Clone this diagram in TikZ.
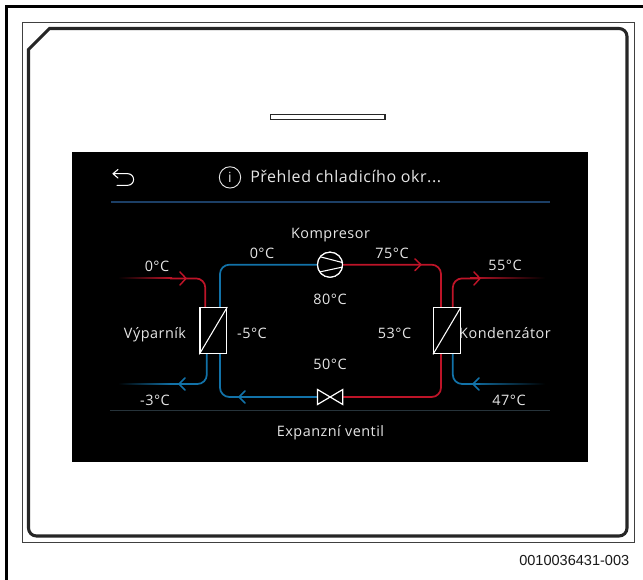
\documentclass[tikz,border=0pt]{standalone}
\usepackage{fontspec}
\setmainfont[LetterSpace=3.5]{Open Sans}
\newfontfamily\capfont{Liberation Sans}
\usetikzlibrary{arrows.meta,fadings}
\definecolor{hotline}{HTML}{BE1428}
\definecolor{coldline}{HTML}{1272A8}
\definecolor{screentext}{HTML}{E6E6E6}
\definecolor{headrule}{HTML}{1C3F66}
\definecolor{footrule}{HTML}{26333A}
\tikzset{
  lbl/.style={text=screentext,font=\fontsize{10.8pt}{12pt}\selectfont,inner sep=0pt,text height=8pt,text depth=0pt},
  hot/.style={draw=hotline,line width=1.3pt,rounded corners=7pt},
  cold/.style={draw=coldline,line width=1.3pt,rounded corners=7pt},
  tipline/.style={line width=1.1pt,line cap=round,line join=round},
  symb/.style={draw=white,line width=.9pt,fill=black},
  hx/.style={symb,minimum width=20pt,minimum height=34.5pt,inner sep=0pt,line width=1pt},
}
\begin{document}
\begin{tikzpicture}[x=.75pt,y=-.75pt]
\useasboundingbox (0,0) rectangle (643,580);
\fill[white] (0,0) rectangle (643,580);
% frames
\draw[black,line width=1.6pt] (6.5,580) -- (6.5,6.5) -- (643,6.5);
\draw[black!75,line width=.6pt] (22.5,22.5) rectangle (634,542);
\draw[black!85,line width=2.3pt] (28.5,49.5) -- (49.5,28.5) -- (619,28.5)
   arc[start angle=-90,end angle=0,radius=8] -- (627,528) arc[start angle=0,end angle=90,radius=8] -- (36.5,536)
   arc[start angle=90,end angle=180,radius=8] -- cycle;
\draw[black!85,line width=.9pt,fill=white] (270.5,114.5) rectangle (385,119.5);
% screen
\fill[black] (72,152) rectangle (588,462);
\draw[headrule,line width=1.1pt] (111,202) -- (550,202);
\draw[footrule,line width=.6pt] (110,410.5) -- (550,410.5);
% back icon
\draw[white,line width=.8pt,line cap=round,line join=round] (118,169.5) -- (113,173.7) -- (118,178)
  (113,173.7) -- (127.8,173.7) arc[start angle=-90,end angle=90,radius=5.8] -- (117,185.3);
% header
\node[draw=screentext,circle,line width=.7pt,minimum size=16pt,inner sep=0pt,
      text=screentext,font=\fontsize{10.5pt}{10pt}\selectfont] (info) at (230,177.4) {i};
\node[lbl,anchor=west,font=\fontsize{12pt}{14pt}\selectfont] (title) at (250,177.5) {Přehled chladicího okr...};
% circuit
\node[hx] (evap) at (213.3,330.7) {};
\node[hx] (cond) at (447,330.7) {};
\node[symb,circle,minimum size=18.8pt,inner sep=0pt] (comp) at (330,264.7) {};
\coordinate (vl) at (317.5,397);
\coordinate (vr) at (342.8,397);
% main loop
\draw[cold] (comp.west) -- (220,264.7) -- (220,308);
\draw[hot] (comp.east) -- (441,264.7) -- (441,308);
\draw[hot] (441,354) -- (441,397) -- (vr);
\draw[cold] (vl) -- (220,397) -- (220,354);
% external lines
\fill[left color=black,right color=hotline] (118,277.7) rectangle (172,279);
\fill[left color=black,right color=coldline] (118,383.4) rectangle (172,384.7);
\fill[right color=black,left color=hotline] (470,277.7) rectangle (545,279);
\fill[right color=black,left color=coldline] (470,383.4) rectangle (545,384.7);
\draw[hot] (170,278.4) -- (205.3,278.4) -- (205.3,308);
\draw[cold] (170,384) -- (206.8,384) -- (206.8,354);
\draw[hot] (452.8,308) -- (452.8,278.4) -- (480,278.4);
\draw[cold] (452.8,354) -- (452.8,384) -- (480,384);
% arrow tips
\draw[hotline,tipline] (180,272) -- (186,278.4) -- (180,285);
\draw[coldline,tipline] (185,378) -- (179,384) -- (185,390);
\draw[coldline,tipline] (245,391) -- (239,397) -- (245,403);
\draw[hotline,tipline] (415,259) -- (421,264.7) -- (415,270.5);
\draw[hotline,tipline] (474,272) -- (480,278.4) -- (474,285);
\draw[coldline,tipline] (479,378) -- (473,384) -- (479,390);
% exchangers redraw
\node[hx] at (evap) {};
\node[hx] at (cond) {};
\draw[white,line width=.8pt] (evap.south west) -- (evap.north east);
\draw[white,line width=.8pt] (cond.south west) -- (cond.north east);
% compressor
\node[symb,circle,minimum size=18.8pt,inner sep=0pt] at (comp) {};
\draw[white,line width=.8pt] (321,257) -- (343,262.7) (319.5,272) -- (342.8,267);
% valve
\draw[symb,line join=miter] (317.5,389.5) -- (342.8,404.5) -- (342.8,389.5) -- (317.5,404.5) -- cycle;
% labels
\node[lbl] (l0a) at (157,266) {0°C};
\node[lbl] (l0b) at (262,253) {0°C};
\node[lbl] (lkomp) at (330.5,233) {Kompresor};
\node[lbl] (l75) at (392,253) {75°C};
\node[lbl] (l55) at (505,265) {55°C};
\node[lbl] (l80) at (330,299) {80°C};
\node[lbl] (lvyp) at (155,333) {Výparník};
\node[lbl] (lm5) at (252,333) {-5°C};
\node[lbl] (l53) at (394.5,333) {53°C};
\node[lbl] (lkond) at (505,333) {Kondenzátor};
\node[lbl] (l50) at (330,364) {50°C};
\node[lbl] (lm3) at (155,400) {-3°C};
\node[lbl] (l47) at (509,400) {47°C};
\node[lbl] (lexp) at (330.5,431) {Expanzní ventil};
\node[font=\capfont\fontsize{10.9pt}{12pt}\selectfont,text=black!90,inner sep=0pt,anchor=east] (code) at (629.5,560.7) {0010036431-003};
\end{tikzpicture}
\end{document}
